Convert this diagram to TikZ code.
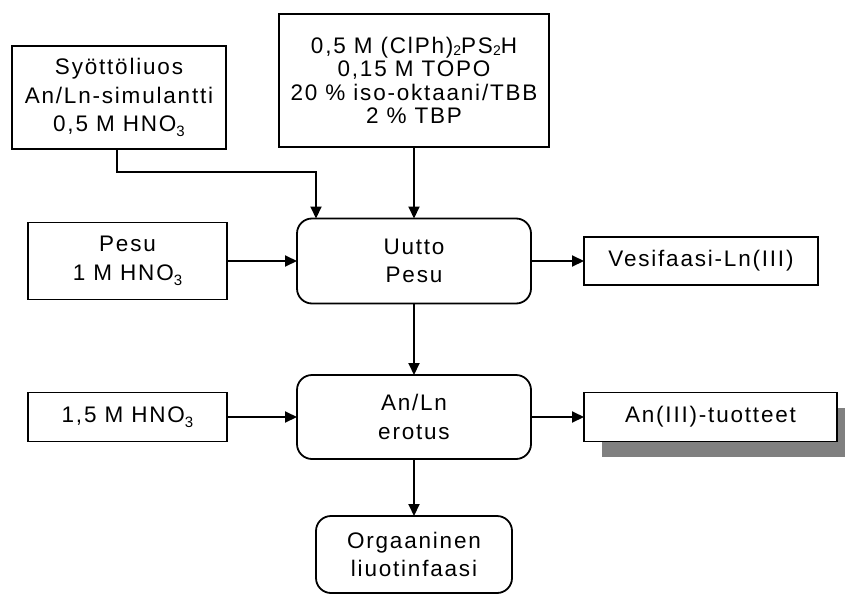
\documentclass[tikz,border=0pt]{standalone}
\usepackage{fontspec}
\setmainfont{Liberation Sans}[LetterSpace=8]
\usetikzlibrary{arrows.meta}
\newcommand{\mysub}[1]{\raisebox{-5pt}{\fontsize{15}{15}\selectfont #1}}
\newcommand{\mysubb}[1]{\raisebox{-2.5pt}{\fontsize{14}{14}\selectfont #1}}
\begin{document}
\begin{tikzpicture}[x=1pt,y=-1pt,
  every node/.style={inner sep=0pt, outer sep=0pt},
  txt/.style={font=\fontsize{22.5}{28.5}\selectfont, align=center},
  sqbox/.style={draw, line width=1.8pt, fill=white, txt},
  rdbox/.style={draw, line width=1.8pt, fill=white, rounded corners=15pt, txt},
  arr/.style={line width=2pt, -{Triangle[length=12pt,width=11pt]}}]
\useasboundingbox (0,0) rectangle (845,594);
\fill[white] (0,0) rectangle (845,594);

% shadow of product box
\fill[fill=gray] (602,408) rectangle (855,457);

\node[sqbox, minimum width=214pt, minimum height=103pt] (feed) at (119,97.5)
  {Syöttöliuos\\An/Ln-simulantti\\0,5 M HNO\mysub{3}};
\node[sqbox, minimum width=270pt, minimum height=133pt, font=\fontsize{22.5}{23.5}\selectfont] (solv) at (414,80.5)
  {0,5 M (ClPh)\mysubb{2}PS\mysubb{2}H\\0,15 M TOPO\\20 \% iso-oktaani/TBB\\2 \% TBP};
\node[sqbox, minimum width=199pt, minimum height=77pt] (pesu) at (127.5,261)
  {Pesu\\1 M HNO\mysub{3}};
\node[rdbox, minimum width=234pt, minimum height=85pt] (uutto) at (414,261)
  {Uutto\\Pesu};
\node[sqbox, minimum width=234pt, minimum height=48pt] (vesi) at (701,261)
  {Vesifaasi-Ln(III)};
\node[sqbox, minimum width=199pt, minimum height=49pt] (hno) at (127.5,417)
  {1,5 M HNO\mysub{3}};
\node[rdbox, minimum width=234pt, minimum height=84pt] (anln) at (414,417)
  {An/Ln\\erotus};
\node[sqbox, minimum width=253pt, minimum height=49pt] (prod) at (710.5,417)
  {An(III)-tuotteet};
\node[rdbox, minimum width=196pt, minimum height=77pt] (org) at (414,554.5)
  {Orgaaninen\\liuotinfaasi};

\draw[arr] ([xshift=-2pt]feed.south) -- ++(0,23) -| ([xshift=-98pt]uutto.north);
\draw[arr] (solv.south) -- (uutto.north);
\draw[arr] (pesu.east) -- (uutto.west);
\draw[arr] (uutto.east) -- (vesi.west);
\draw[arr] (uutto.south) -- (anln.north);
\draw[arr] (hno.east) -- (anln.west);
\draw[arr] (anln.east) -- (prod.west);
\draw[arr] (anln.south) -- (org.north);
\end{tikzpicture}
\end{document}
